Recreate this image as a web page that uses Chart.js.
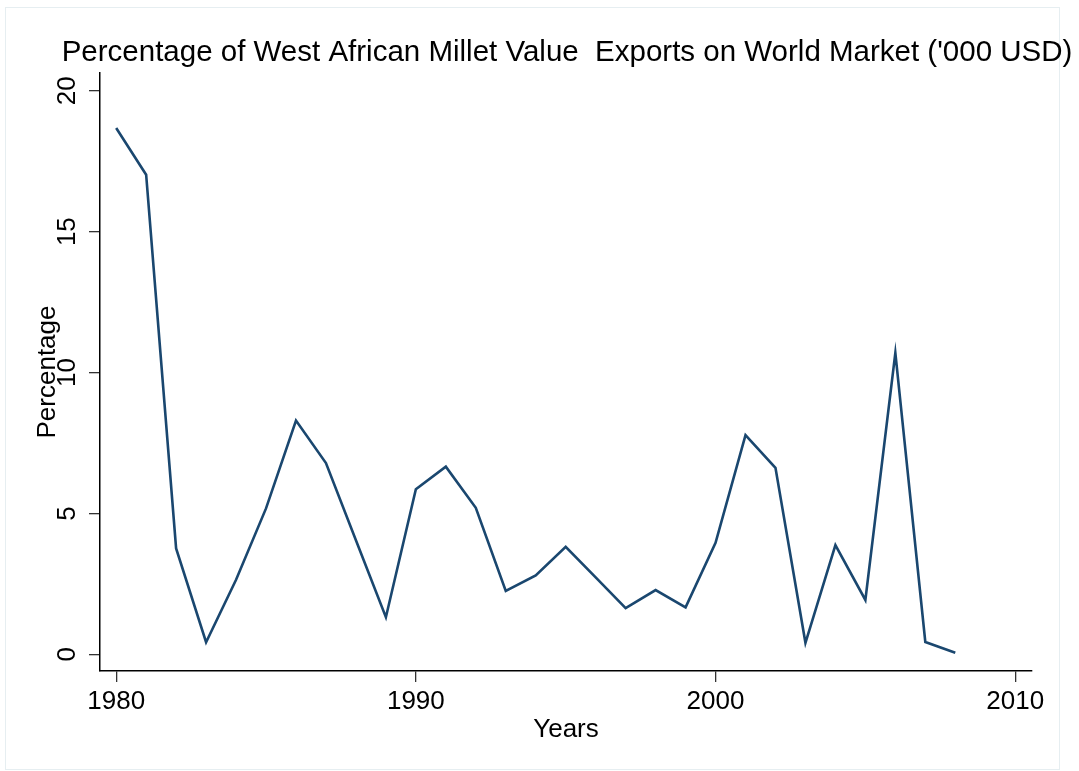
<!DOCTYPE html>
<html>
<head>
<meta charset="utf-8">
<script src="https://cdn.jsdelivr.net/npm/chart.js@4"></script>
<style>
  html, body { margin: 0; padding: 0; background: #fff; }
  #wrap { position: relative; width: 1079px; height: 771px; }
</style>
</head>
<body>
<div id="wrap"><canvas id="chart" width="1079" height="771"></canvas></div>
<script>
// data
const years = [1980, 1981, 1982, 1983, 1984, 1985, 1986, 1987, 1988, 1989,
  1990, 1991, 1992, 1993, 1994, 1995, 1996, 1997, 1998, 1999,
  2000, 2001, 2002, 2003, 2004, 2005, 2006, 2007, 2008];
const percentValues = [18.68, 17.02, 3.76, 0.43, 2.65, 5.18, 8.30, 6.79, 4.05, 1.32,
  5.86, 6.66, 5.20, 2.25, 2.80, 3.82, 2.73, 1.64, 2.28, 1.67,
  3.96, 7.78, 6.62, 0.41, 3.88, 1.93, 10.70, 0.44, 0.06];
const xTicks = [1980, 1990, 2000, 2010];
const yTicks = [0, 5, 10, 15, 20];

const chartTitle = "Percentage of West African Millet Value  Exports on World Market ('000 USD)";
const FONT = "'Liberation Sans', Arial, Helvetica, sans-serif";

Chart.defaults.font.family = FONT;
Chart.defaults.color = '#000';

// Stata-ish frame + title
const frameAndTitle = {
  id: 'frameAndTitle',
  beforeDraw(chart) {
    const ctx = chart.ctx;
    ctx.save();
    ctx.strokeStyle = '#e6eef1';
    ctx.lineWidth = 1;
    ctx.strokeRect(5.5, 7.5, 1054, 762);
    ctx.restore();
  },
  afterDraw(chart) {
    const ctx = chart.ctx;
    const area = chart.chartArea;
    ctx.save();
    ctx.font = '29.5px ' + FONT;
    ctx.fillStyle = '#000';
    ctx.textAlign = 'center';
    ctx.textBaseline = 'middle';
    ctx.fillText(chartTitle, (area.left + area.right) / 2 + 1, 53);
    ctx.restore();
  }
};

new Chart(document.getElementById('chart'), {
  type: 'line',
  data: {
    datasets: [{
      label: 'Percentage',
      data: years.map((y, i) => ({ x: y, y: percentValues[i] })),
      borderColor: '#1a476f',
      borderWidth: 2.6,
      pointRadius: 0,
      tension: 0,
      fill: false
    }]
  },
  options: {
    responsive: false,
    animation: false,
    events: [],
    layout: { padding: { top: 73, right: 47, bottom: 0, left: 0 } },
    plugins: {
      legend: { display: false },
      tooltip: { enabled: false }
    },
    scales: {
      x: {
        type: 'linear',
        min: 1979.46,
        max: 2010.56,
        afterBuildTicks: s => { s.ticks = xTicks.map(v => ({ value: v })); },
        afterFit: s => { s.height = 100; },
        grid: { drawOnChartArea: false, drawTicks: true, tickLength: 11, color: '#333', lineWidth: 1.3 },
        border: { display: true, color: '#000', width: 1.5 },
        ticks: {
          autoSkip: false, maxRotation: 0, padding: 4,
          font: { size: 26 }, color: '#000',
          callback: v => String(v)
        },
        title: {
          display: true, text: 'Years', color: '#000',
          font: { size: 26 }, padding: { top: 0, bottom: 26 }
        }
      },
      y: {
        type: 'linear',
        min: -0.59,
        max: 20.63,
        afterBuildTicks: s => { s.ticks = yTicks.map(v => ({ value: v })); },
        afterFit: s => { s.width = 100; },
        grid: { drawOnChartArea: false, drawTicks: true, tickLength: 11, color: '#333', lineWidth: 1.3 },
        border: { display: true, color: '#000', width: 1.5 },
        ticks: {
          autoSkip: false, minRotation: 90, maxRotation: 90,
          crossAlign: 'center', padding: 7,
          font: { size: 26 }, color: '#000',
          callback: v => String(v)
        },
        title: {
          display: true, text: 'Percentage', color: '#000',
          font: { size: 26 }, padding: { top: 32, bottom: 0 }
        }
      }
    }
  },
  plugins: [frameAndTitle]
});
</script>
</body>
</html>
